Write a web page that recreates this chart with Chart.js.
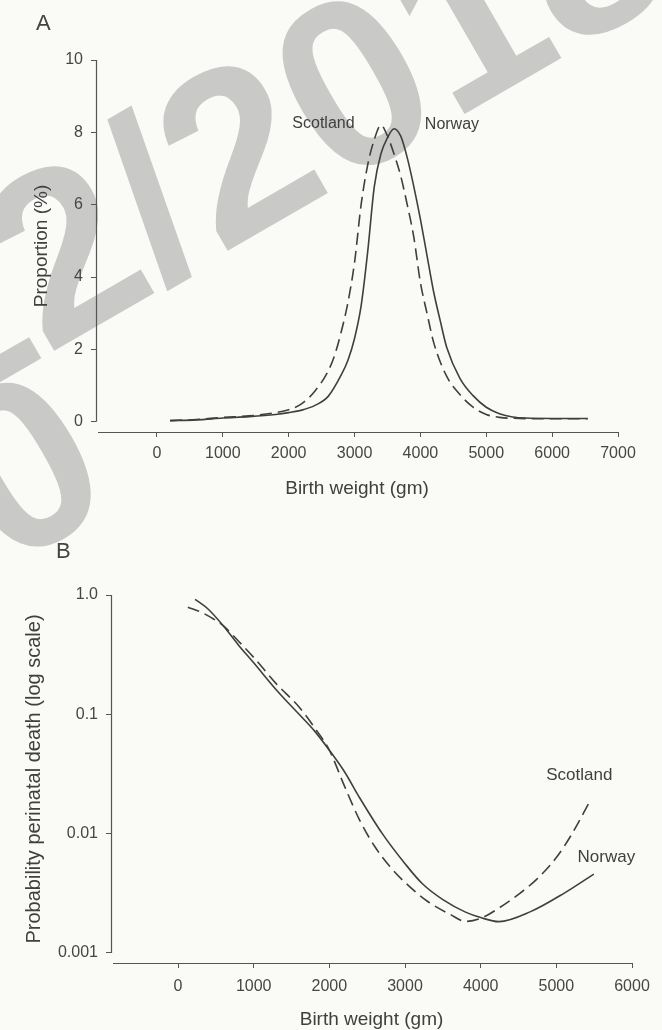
<!DOCTYPE html>
<html><head><meta charset="utf-8">
<script src="https://cdn.jsdelivr.net/npm/chart.js@4.4.0/dist/chart.umd.min.js"></script>
<style>
html,body{margin:0;padding:0;background:#fafaf7;width:662px;height:1030px;overflow:hidden;position:relative;font-family:"Liberation Sans",Arial,sans-serif;}
.wm{position:absolute;color:#c9c9c7;font-weight:bold;font-size:240px;line-height:1;font-family:"Liberation Sans",Arial,sans-serif;white-space:nowrap;transform-origin:0 0;transform:rotate(-30deg);}
.panel{position:absolute;left:0;width:662px;}
.tag{position:absolute;font-size:22px;color:#444;line-height:1;}
</style></head><body>
<div class="wm" style="left:-170px;top:246px;">12/2018</div>
<div class="wm" style="left:-96px;top:394px;">0</div>
<div class="panel" style="top:0;height:515px"><canvas id="cA" width="662" height="515"></canvas></div>
<div class="panel" style="top:515px;height:522px"><canvas id="cB" width="662" height="522"></canvas></div>
<div class="tag" style="left:36px;top:12px">A</div>
<div class="tag" style="left:56px;top:540px">B</div>
<script>
// ---------- Panel A: birth weight distribution (%) ----------
const scotA_weight = [200,600,1000,1400,1800,2000,2200,2400,2600,2700,2800,2900,3000,3100,3200,3300,3400,3500,3600,3700,3800,3900,4000,4100,4200,4400,4600,4800,5000,5200,5500,6000,6540];
const scotA_pct    = [0.03,0.06,0.12,0.16,0.25,0.33,0.5,0.85,1.4,1.85,2.5,3.3,4.4,6.0,7.1,7.8,8.2,7.9,7.4,6.8,6.0,5.1,3.85,3.0,2.2,1.25,0.75,0.4,0.2,0.12,0.09,0.08,0.08];
const norA_weight  = [200,600,1000,1400,1800,2000,2200,2400,2600,2800,2900,3000,3100,3200,3300,3400,3500,3600,3700,3800,3900,4000,4100,4200,4300,4400,4600,4800,5000,5200,5400,5600,6000,6540];
const norA_pct     = [0.03,0.05,0.1,0.14,0.2,0.25,0.32,0.45,0.7,1.3,1.7,2.3,3.2,4.7,6.5,7.4,7.85,8.1,7.9,7.3,6.5,5.6,4.6,3.6,2.8,2.05,1.2,0.72,0.4,0.22,0.13,0.1,0.09,0.09];
const xTicksA = [0,1000,2000,3000,4000,5000,6000,7000];
const yTicksA = [0,2,4,6,8,10];

// ---------- Panel B: probability of perinatal death ----------
const scotB_weight = [130,300,450,600,800,1000,1300,1600,1800,2000,2200,2400,2600,2800,3000,3300,3600,3800,4000,4250,4500,4750,5000,5200,5440];
const scotB_prob   = [0.79,0.72,0.64,0.55,0.41,0.30,0.18,0.115,0.078,0.05,0.025,0.013,0.0078,0.0053,0.0039,0.0027,0.0021,0.00184,0.00195,0.0024,0.0031,0.0042,0.0063,0.0098,0.0185];
const norB_weight  = [225,400,600,800,1000,1300,1600,1800,2000,2200,2400,2700,3000,3230,3500,3800,4000,4240,4660,5100,5495];
const norB_prob    = [0.92,0.76,0.55,0.38,0.27,0.16,0.1,0.073,0.05,0.033,0.02,0.01,0.0056,0.0038,0.0028,0.0022,0.00198,0.00183,0.00222,0.00316,0.00458];
const xTicksB = [0,1000,2000,3000,4000,5000,6000];
const yTicksB = [1,0.1,0.01,0.001];
const yTickLabelsB = ['1.0','0.1','0.01','0.001'];

const seriesNames = ['Scotland','Norway'];

Chart.defaults.font.family = '"Liberation Sans", Arial, sans-serif';
const INK = '#3f3f3f', TXT = '#464646';

const zip = (xs, ys) => xs.map((x, i) => ({x, y: ys[i]}));

function framePlugin(cfg) {
  return {
    id: 'frame',
    afterDatasetsDraw(chart) {
      const {ctx, chartArea: a, scales: {x, y}} = chart;
      ctx.save();
      ctx.strokeStyle = '#555';
      ctx.lineWidth = 1.2;
      ctx.beginPath();
      const lx = Math.round(a.left) + 0.5;
      ctx.moveTo(lx, y.getPixelForValue(cfg.yTop));
      ctx.lineTo(lx, y.getPixelForValue(cfg.yBottom));
      const by = Math.round(a.bottom) + 0.5;
      ctx.moveTo(a.left + 2, by);
      ctx.lineTo(x.getPixelForValue(cfg.xEnd), by);
      ctx.stroke();
      ctx.fillStyle = '#404040';
      ctx.font = cfg.font;
      ctx.textAlign = 'center';
      ctx.textBaseline = 'middle';
      cfg.labels.forEach(l => ctx.fillText(l.text, x.getPixelForValue(l.x), y.getPixelForValue(l.y)));
      ctx.restore();
    }
  };
}

function lineDs(label, data, dashed) {
  return {
    label, data,
    borderColor: INK, borderWidth: 1.6,
    borderDash: dashed ? [12, 6] : [],
    pointRadius: 0, fill: false,
    cubicInterpolationMode: 'monotone'
  };
}

function axisCommon(tickVals, labels, pad, size) {
  return {
    bounds: 'data',
    afterBuildTicks: s => { s.ticks = tickVals.map(v => ({value: v})); },
    grid: {display: true, drawOnChartArea: false, drawTicks: true, tickLength: 5, color: '#555', lineWidth: 1},
    border: {display: false},
    ticks: {
      autoSkip: false, maxRotation: 0, minRotation: 0, color: TXT, padding: pad,
      font: {size: size},
      callback: (v, i) => labels[i]
    }
  };
}

// Panel A
new Chart(document.getElementById('cA'), {
  type: 'line',
  data: {datasets: [
    lineDs(seriesNames[0], zip(scotA_weight, scotA_pct), true),
    lineDs(seriesNames[1], zip(norA_weight, norA_pct), false)
  ]},
  options: {
    responsive: false, animation: false, devicePixelRatio: 1,
    layout: {padding: {left: 0, right: 44, top: 60, bottom: 0}},
    plugins: {legend: {display: false}, tooltip: {enabled: false}},
    scales: {
      x: Object.assign(axisCommon(xTicksA, xTicksA.map(String), 7, 16), {
        type: 'linear', min: -925, max: 7000,
        afterFit: s => { s.height = 83; },
        title: {display: true, text: 'Birth weight (gm)', color: '#404040', font: {size: 19}, padding: {top: 0, bottom: 15}}
      }),
      y: Object.assign(axisCommon(yTicksA, yTicksA.map(String), 8, 16), {
        type: 'linear', min: -0.285, max: 10,
        afterFit: s => { s.width = 96; },
        title: {display: true, text: 'Proportion (%)', color: '#404040', font: {size: 19}, padding: {top: 30, bottom: 0}}
      })
    }
  },
  plugins: [framePlugin({yTop: 10, yBottom: 0, xEnd: 7000, font: '16px "Liberation Sans", Arial, sans-serif', labels: [
    {text: seriesNames[0], x: 2528, y: 8.23},
    {text: seriesNames[1], x: 4479, y: 8.22}
  ]})]
});

// Panel B
new Chart(document.getElementById('cB'), {
  type: 'line',
  data: {datasets: [
    lineDs(seriesNames[0], zip(scotB_weight, scotB_prob), true),
    lineDs(seriesNames[1], zip(norB_weight, norB_prob), false)
  ]},
  options: {
    responsive: false, animation: false, devicePixelRatio: 1,
    layout: {padding: {left: 0, right: 30, top: 80, bottom: 0}},
    plugins: {legend: {display: false}, tooltip: {enabled: false}},
    scales: {
      x: Object.assign(axisCommon(xTicksB, xTicksB.map(String), 9, 16), {
        type: 'linear', min: -886, max: 6000,
        afterFit: s => { s.height = 74; },
        title: {display: true, text: 'Birth weight (gm)', color: '#404040', font: {size: 19}, padding: {top: 0, bottom: 6}}
      }),
      y: Object.assign(axisCommon(yTicksB, yTickLabelsB, 8, 16), {
        type: 'logarithmic', min: 0.000824, max: 1,
        afterFit: s => { s.width = 111; },
        title: {display: true, text: 'Probability perinatal death (log scale)', color: '#404040', font: {size: 20}, padding: {top: 22, bottom: 0}}
      })
    }
  },
  plugins: [framePlugin({yTop: 1, yBottom: 0.001, xEnd: 6000, font: '17px "Liberation Sans", Arial, sans-serif', labels: [
    {text: seriesNames[0], x: 5304, y: 0.031},
    {text: seriesNames[1], x: 5661, y: 0.00637}
  ]})]
});
</script>
</body></html>
